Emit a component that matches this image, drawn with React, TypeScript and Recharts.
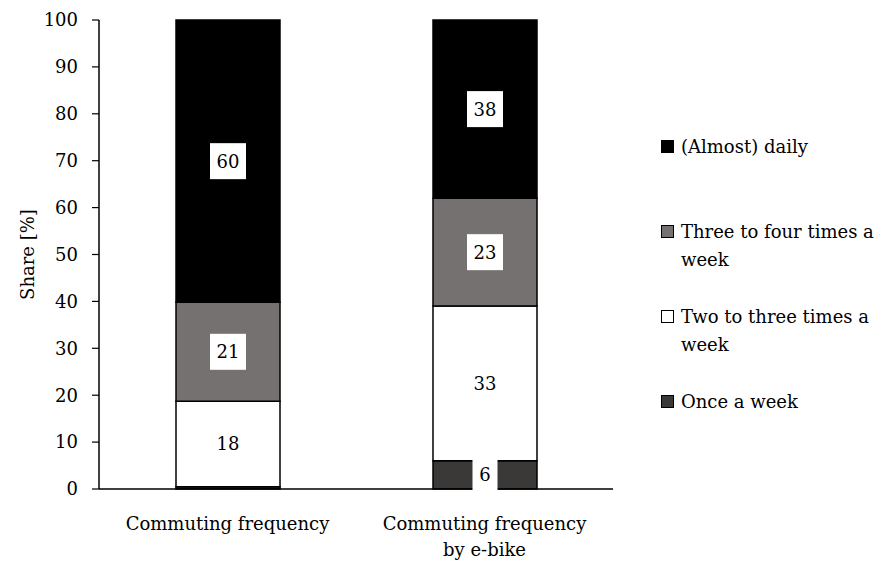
import React from "react";
import { BarChart, Bar, XAxis, YAxis, LabelList } from "recharts";

// Commuting frequency shares (%) for the two survey questions
const categories = ["Commuting frequency", "Commuting frequency by e-bike"];
// Category tick labels, as printed line by line under the axis
const categoryTickLines = [["Commuting frequency"], ["Commuting frequency", "by e-bike"]];
const onceAWeek = [0.5, 6];
const twoToThreeTimes = [18.2, 33];
const threeToFourTimes = [21.1, 23];
const almostDaily = [60.2, 38];
const yTicks = [0, 10, 20, 30, 40, 50, 60, 70, 80, 90, 100];

const FONT = "'DejaVu Serif', serif";
const FONT_SIZE = 18;

// Stack order, bottom to top
const series = [
  { key: "once", name: "Once a week", fill: "#3b3838", values: onceAWeek },
  { key: "two", name: "Two to three times a week", fill: "#ffffff", values: twoToThreeTimes },
  { key: "three", name: "Three to four times a week", fill: "#767171", values: threeToFourTimes },
  { key: "daily", name: "(Almost) daily", fill: "#000000", values: almostDaily },
];

const data = categories.map((category, i) => {
  const row: Record<string, string | number> = { category };
  series.forEach((s) => {
    row[s.key] = s.values[i];
  });
  return row;
});

// Value printed in a white box at the centre of each segment
const ValueBox = (props: any) => {
  const vb = props.viewBox && props.viewBox.width !== undefined ? props.viewBox : props;
  const { x, y, width, height } = vb;
  const value = Number(props.value);
  if (!isFinite(value) || value < 1) return null;
  const text = String(Math.round(value));
  const w = 14 + text.length * 11;
  const h = 36;
  const cx = x + width / 2;
  const cy = y + height / 2;
  return (
    <g>
      <rect x={cx - w / 2} y={cy - h / 2} width={w} height={h} fill="#ffffff" />
      <text
        x={cx}
        y={cy}
        textAnchor="middle"
        dominantBaseline="central"
        fontFamily={FONT}
        fontSize={FONT_SIZE}
        fill="#000"
      >
        {text}
      </text>
    </g>
  );
};

const CategoryTick = (props: any) => {
  const { x, y, payload } = props;
  const idx = categories.indexOf(payload.value);
  const lines = idx >= 0 ? categoryTickLines[idx] : [String(payload.value)];
  return (
    <text
      x={x}
      y={y + 41}
      textAnchor="middle"
      fontFamily={FONT}
      fontSize={FONT_SIZE}
      fill="#000"
    >
      {lines.map((line, i) => (
        <tspan key={i} x={x} dy={i === 0 ? 0 : 26}>
          {line}
        </tspan>
      ))}
    </text>
  );
};

const YTitle = (props: any) => {
  const vb = props.viewBox || { x: 0, y: 20, width: 99, height: 469 };
  const cx = 27;
  const cy = vb.y + vb.height / 2;
  return (
    <text
      x={cx}
      y={cy}
      transform={`rotate(-90 ${cx} ${cy})`}
      textAnchor="middle"
      dominantBaseline="central"
      fontFamily={FONT}
      fontSize={FONT_SIZE}
      fill="#000"
    >
      Share [%]
    </text>
  );
};

export default function App() {
  const legendItems = [...series].reverse();
  return (
    <div
      style={{
        position: "absolute",
        left: 0,
        top: 0,
        width: 876,
        height: 563,
        background: "#ffffff",
      }}
    >
      <BarChart
        width={876}
        height={563}
        data={data}
        margin={{ top: 20, right: 263, bottom: 14, left: 0 }}
        barSize={104}
      >
        <XAxis
          dataKey="category"
          height={60}
          tickLine={false}
          tickSize={0}
          tickMargin={0}
          axisLine={{ stroke: "#000", strokeWidth: 1.5 }}
          tick={<CategoryTick />}
          interval={0}
        />
        <YAxis
          width={99}
          domain={[0, 100]}
          ticks={yTicks}
          interval={0}
          tickSize={7}
          tickMargin={14}
          axisLine={{ stroke: "#000", strokeWidth: 1.5 }}
          tickLine={{ stroke: "#000", strokeWidth: 1.2 }}
          tick={{ fill: "#000", fontFamily: FONT, fontSize: FONT_SIZE }}
          label={{ content: (p: any) => <YTitle {...p} /> }}
        />
        {series.map((s) => (
          <Bar
            key={s.key}
            dataKey={s.key}
            name={s.name}
            stackId="share"
            fill={s.fill}
            stroke="#000"
            strokeWidth={1.5}
            isAnimationActive={false}
          >
            <LabelList dataKey={s.key} content={(p: any) => <ValueBox {...p} />} />
          </Bar>
        ))}
      </BarChart>
      <div
        style={{
          position: "absolute",
          left: 661,
          top: 133,
          width: 220,
          fontFamily: FONT,
          fontSize: FONT_SIZE,
          lineHeight: "28px",
          color: "#000",
        }}
      >
        {legendItems.map((s) => (
          <div key={s.key} style={{ height: 85, display: "flex", alignItems: "flex-start" }}>
            <span
              style={{
                flex: "none",
                width: 13,
                height: 13,
                marginTop: 7,
                boxSizing: "border-box",
                border: "1px solid #000",
                background: s.fill,
              }}
            />
            <span style={{ marginLeft: 7, width: 196 }}>{s.name}</span>
          </div>
        ))}
      </div>
    </div>
  );
}
